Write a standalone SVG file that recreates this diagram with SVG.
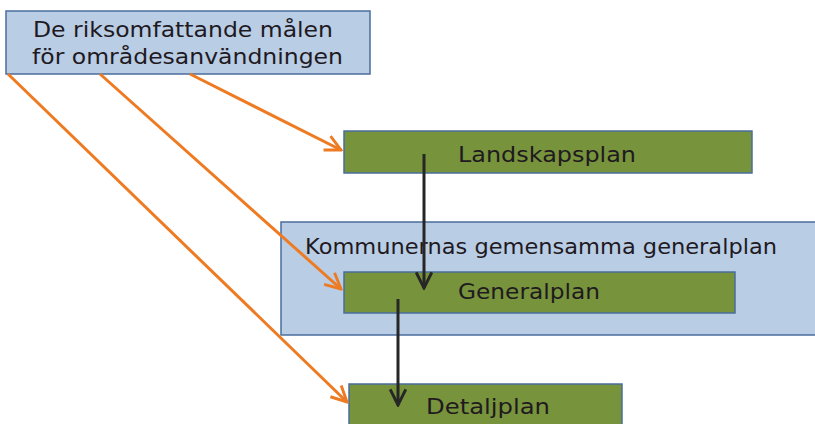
<svg xmlns="http://www.w3.org/2000/svg" width="815" height="424" viewBox="0 0 815 424">
<defs>
<style>
.blue{fill:#B9CDE5;stroke:#4A6D9C;stroke-width:1.5}
.green{fill:#77933C;stroke:#4A6D9C;stroke-width:1.5}
.t{font-family:"DejaVu Sans","Liberation Sans",sans-serif;font-size:22px;fill:#1f1a1f}
.o{stroke:#EE7B22;stroke-width:3;fill:none;marker-end:url(#ao)}
.k{stroke:#262626;stroke-width:3;fill:none;marker-end:url(#ak)}
</style>
<marker id="ao" viewBox="0 0 10 10" refX="9" refY="5" markerWidth="6.5" markerHeight="6.5" markerUnits="strokeWidth" orient="auto"><path d="M1,1 L9,5 L1,9" fill="none" stroke="#EE7B22" stroke-width="1.5"/></marker>
<marker id="ak" viewBox="0 0 10 10" refX="9" refY="5" markerWidth="6.5" markerHeight="6.5" markerUnits="strokeWidth" orient="auto"><path d="M1,1 L9,5 L1,9" fill="none" stroke="#262626" stroke-width="1.5"/></marker>
</defs>
<g id="mal">
<rect class="blue" x="6" y="11" width="364" height="63"/>
<text class="t" x="33" y="37" textLength="300" lengthAdjust="spacingAndGlyphs">De riksomfattande målen</text>
<text class="t" x="32" y="64" textLength="311" lengthAdjust="spacingAndGlyphs">för områdesanvändningen</text>
</g>
<g id="kommun">
<rect class="blue" x="281" y="222" width="540" height="113"/>
<text class="t" x="305" y="254" textLength="472" lengthAdjust="spacingAndGlyphs">Kommunernas gemensamma generalplan</text>
</g>
<g id="landskapsplan">
<rect class="green" x="344" y="131" width="408" height="42"/>
<text class="t" x="458" y="162" textLength="178" lengthAdjust="spacingAndGlyphs">Landskapsplan</text>
</g>
<g id="generalplan">
<rect class="green" x="344" y="272" width="391" height="41"/>
<text class="t" x="458" y="299" textLength="142" lengthAdjust="spacingAndGlyphs">Generalplan</text>
</g>
<g id="detaljplan">
<rect class="green" x="349" y="384" width="273" height="50"/>
<text class="t" x="426" y="414" textLength="124" lengthAdjust="spacingAndGlyphs">Detaljplan</text>
</g>
<g id="connectors">
<line class="o" x1="190" y1="74" x2="341" y2="150"/>
<line class="o" x1="100" y1="74" x2="341" y2="289"/>
<line class="o" x1="8" y1="74" x2="347" y2="402"/>
<line class="k" x1="424" y1="154" x2="424" y2="288"/>
<line class="k" x1="398" y1="299" x2="398" y2="405"/>
</g>
</svg>
